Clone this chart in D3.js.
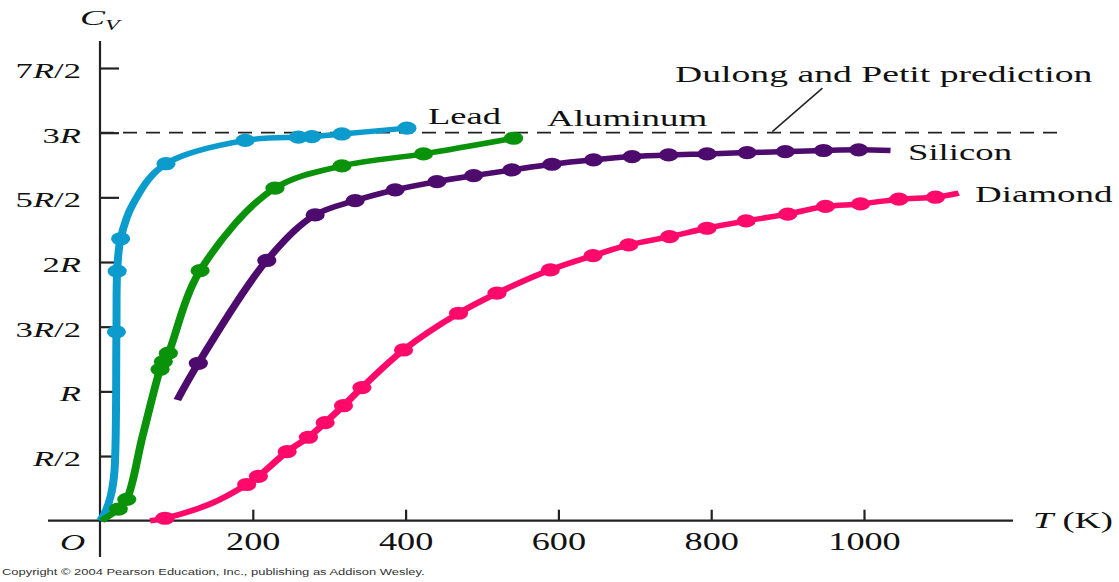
<!DOCTYPE html>
<html lang="en">
    <head>
        <meta charset="utf-8">
        <title>Molar heat capacity vs temperature</title>
        <script type="text/javascript" src="https://cdn.jsdelivr.net/npm/d3@7/dist/d3.min.js"></script>
        <style>
            body { margin: 0; background: #fff; }
        </style>
    </head>
    <body>
        <script type="text/javascript">
            var w = 1119;
            var h = 582;
            var SX = 1.45; // the figure is stretched sideways, so marks are drawn in a stretched group

            // values: [T in K, Cv in units of R]
            var leadDots = [[21.5, 1.46], [22.5, 1.93], [27, 2.18], [86.4, 2.76], [190, 2.94], [259.7, 2.965], [277.3, 2.97], [316.6, 2.99], [401.7, 3.035]];
            var leadTrace = [[0, 0], [7.9, 0.083], [14.4, 0.2], [19, 0.39], [43.7, 2.455]];

            var aluminumDots = [[24, 0.09], [35, 0.165], [78.6, 1.17], [82.9, 1.23], [89.5, 1.295], [131, 1.933], [229, 2.571], [316.6, 2.743], [423.4, 2.836], [541.3, 2.957]];
            var aluminumTrace = [[2, 0], [56, 0.66]];

            var siliconDots = [[128.7, 1.217], [218.3, 2.012], [281.6, 2.364], [334, 2.475], [386.4, 2.558], [441, 2.622], [489, 2.668], [539, 2.712], [591.6, 2.756], [646, 2.79], [696.4, 2.815], [744.3, 2.828], [794.6, 2.836], [847, 2.846], [897, 2.854], [947, 2.862], [993, 2.867]];
            var siliconTrace = [[101.2, 0.933], [1034.7, 2.862]];

            var diamondDots = [[85, 0.019], [192, 0.28], [207.3, 0.343], [245, 0.534], [272.8, 0.645], [294.7, 0.758], [318.7, 0.889], [342.8, 1.029], [397.3, 1.32], [469.3, 1.604], [519.6, 1.759], [589.4, 1.939], [645.3, 2.049], [692, 2.132], [745.6, 2.196], [794.6, 2.261], [845.7, 2.318], [900.2, 2.37], [949.6, 2.43], [995.4, 2.449], [1045.6, 2.486], [1093.6, 2.501]];
            var diamondTrace = [[65.5, 0], [146, 0.134], [1124, 2.532]];

            var xTicks = [200, 400, 600, 800, 1000];
            var yTicks = [0.5, 1, 1.5, 2, 2.5, 3, 3.5];
            var yTickLabels = ["R/2", "R", "3R/2", "2R", "5R/2", "3R", "7R/2"];
            var dulongPetit = 3;

            var series = [
                {name: "Lead", dots: leadDots, trace: leadTrace, color: "#0b9bcc"},
                {name: "Aluminum", dots: aluminumDots, trace: aluminumTrace, color: "#0a930a"},
                {name: "Silicon", dots: siliconDots, trace: siliconTrace, color: "#4e0b6e"},
                {name: "Diamond", dots: diamondDots, trace: diamondTrace, color: "#ff0a6b"}
            ];

            var xScale = d3.scaleLinear().domain([0, 1000]).range([100, 864]);
            var xPlot = d3.scaleLinear().domain([0, 1000]).range([100 / SX, 864 / SX]);
            var yScale = d3.scaleLinear().domain([0, 3.5]).range([520.7, 68]);

            var svg = d3.select("body")
                        .append("svg")
                        .attr("width", w)
                        .attr("height", h);

            var serif = "'Liberation Serif', 'Times New Roman', serif";
            var ink = "#222";

            function addText(x, y, size, sx, anchor) {
                return svg.append("text")
                          .attr("transform", "translate(" + x + "," + y + ") scale(" + sx + ",1)")
                          .attr("text-anchor", anchor)
                          .attr("font-family", serif)
                          .attr("font-size", size)
                          .attr("fill", "#111");
            }

            // axes lines
            svg.append("line")
               .attr("x1", 48).attr("x2", 1013)
               .attr("y1", yScale(0)).attr("y2", yScale(0))
               .attr("stroke", ink).attr("stroke-width", 2.2);
            svg.append("line")
               .attr("x1", xScale(0)).attr("x2", xScale(0))
               .attr("y1", 41).attr("y2", 557)
               .attr("stroke", ink).attr("stroke-width", 2.2);

            // x axis ticks
            var gx = svg.append("g")
                        .attr("transform", "translate(0," + yScale(0) + ")")
                        .call(d3.axisBottom(xScale).tickValues(xTicks).tickSizeInner(-11).tickSizeOuter(0).tickFormat(""));
            gx.select(".domain").remove();
            gx.selectAll(".tick line").attr("stroke", ink).attr("stroke-width", 2.2);
            gx.selectAll(".tick text").remove();
            gx.selectAll(".tick").append("text")
              .attr("transform", "translate(0,29.5) scale(1.45,1)")
              .attr("text-anchor", "middle")
              .attr("font-family", serif)
              .attr("font-size", 25)
              .attr("fill", "#111")
              .text(function(d) { return d; });

            // y axis ticks
            var gy = svg.append("g")
                        .attr("transform", "translate(" + xScale(0) + ",0)")
                        .call(d3.axisLeft(yScale).tickValues(yTicks).tickSizeInner(-19).tickSizeOuter(0).tickFormat(""));
            gy.select(".domain").remove();
            gy.selectAll(".tick line").attr("stroke", ink).attr("stroke-width", 2.2);
            gy.selectAll(".tick text").remove();
            gy.selectAll(".tick").each(function(d, i) {
                var parts = yTickLabels[i].split("R");
                var t = d3.select(this).append("text")
                          .attr("transform", "translate(-19,9.5) scale(1.65,1)")
                          .attr("text-anchor", "end")
                          .attr("font-family", serif)
                          .attr("font-size", 21)
                          .attr("fill", "#111");
                t.append("tspan").text(parts[0]);
                t.append("tspan").attr("font-style", "italic").text("R");
                t.append("tspan").text(parts[1]);
            });

            // Dulong and Petit line
            svg.append("line")
               .attr("x1", xScale(0)).attr("x2", 1057)
               .attr("y1", yScale(dulongPetit)).attr("y2", yScale(dulongPetit))
               .attr("stroke", ink).attr("stroke-width", 1.6)
               .attr("stroke-dasharray", "14,9");
            svg.append("line")
               .attr("x1", xScale(880)).attr("y1", yScale(dulongPetit) - 1)
               .attr("x2", xScale(945.6)).attr("y2", yScale(3.344))
               .attr("stroke", ink).attr("stroke-width", 1.5);

            // curves and dots
            var plot = svg.append("g").attr("transform", "scale(" + SX + ",1)");
            var line = d3.line()
                         .x(function(d) { return xPlot(d[0]); })
                         .y(function(d) { return yScale(d[1]); })
                         .curve(d3.curveCatmullRom.alpha(0.5));

            series.forEach(function(s) {
                var pts = s.trace.concat(s.dots).sort(function(a, b) { return a[0] - b[0]; });
                plot.append("path")
                    .attr("d", line(pts))
                    .attr("fill", "none")
                    .attr("stroke", s.color)
                    .attr("stroke-width", 5.5)
                    .attr("stroke-linejoin", "round");
                plot.selectAll(null)
                    .data(s.dots)
                    .enter()
                    .append("circle")
                    .attr("cx", function(d) { return xPlot(d[0]); })
                    .attr("cy", function(d) { return yScale(d[1]); })
                    .attr("r", 6.6)
                    .attr("fill", s.color);
            });

            // labels
            addText(675, 81.7, 24, 1.57, "start").text("Dulong and Petit prediction");
            addText(428, 124, 24, 1.52, "start").text("Lead");
            addText(547, 126, 24, 1.54, "start").text("Aluminum");
            addText(908, 159.5, 24, 1.53, "start").text("Silicon");
            addText(975, 201.7, 24, 1.54, "start").text("Diamond");

            var tk = addText(1033, 527.7, 24, 1.52, "start");
            tk.append("tspan").attr("font-style", "italic").text("T");
            tk.append("tspan").text(" (K)");

            addText(72.5, 550, 24, 1.45, "middle").attr("font-style", "italic").text("O");

            var cv = addText(80, 25, 22, 1.7, "start").attr("font-style", "italic");
            cv.append("tspan").text("C");
            cv.append("tspan").attr("font-size", 14).attr("dy", 5).text("V");

            var copy = svg.append("text")
                          .attr("font-family", "'Liberation Sans', Arial, sans-serif")
                          .attr("font-size", 9)
                          .attr("fill", "#333")
                          .text("Copyright \u00a9 2004 Pearson Education, Inc., publishing as Addison Wesley.");
            var len = copy.node().getComputedTextLength();
            copy.attr("transform", "translate(2,575) scale(" + (423 / len) + ",1)");
        </script>
    </body>
</html>
